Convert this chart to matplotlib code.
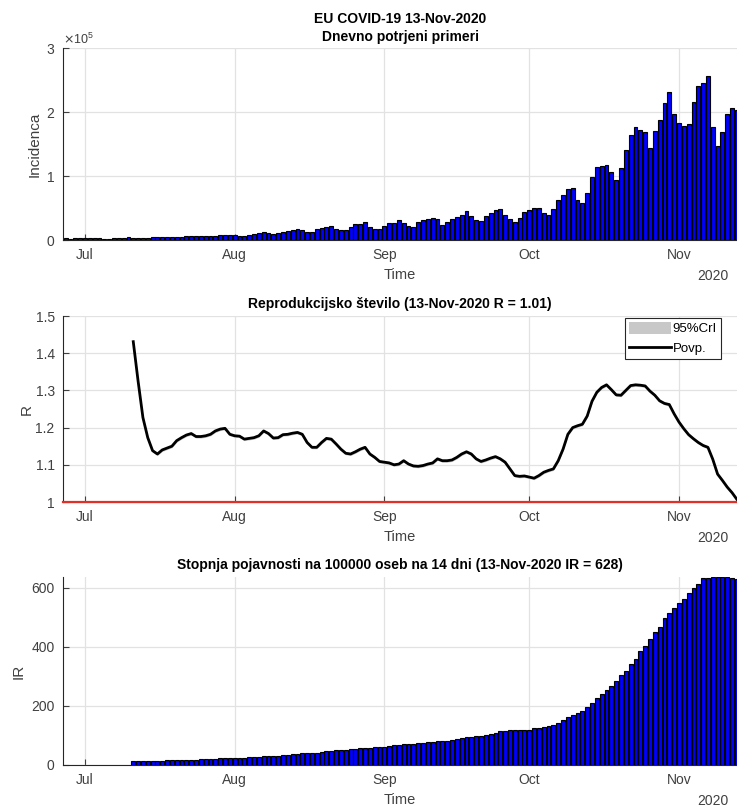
import numpy as np
import matplotlib
matplotlib.use('Agg')
import matplotlib.pyplot as plt
import matplotlib.dates as mdates
from matplotlib.ticker import ScalarFormatter, FixedLocator
from matplotlib.patches import Patch
from matplotlib.lines import Line2D

plt.rcParams['font.family'] = ['Liberation Sans', 'DejaVu Sans']

# daily confirmed cases, 27-Jun-2020 .. 13-Nov-2020 (thousands)
cases_k = [
    2.6, 1.8, 3.2, 3.2,
    3.3, 3.2, 3.1, 2.7, 1.2, 1.1, 2.6, 2.7, 3.0, 4.8, 3.2, 3.1, 3.3, 3.7, 4.2, 4.3,
    4.2, 4.3, 4.2, 4.3, 4.8, 5.8, 5.9, 5.8, 5.8, 5.7, 5.9, 6.3, 7.9, 8.5, 7.7,
    7.2, 6.9, 7.0, 8.5, 10.0, 11.0, 12.7, 10.6, 9.0, 11.0, 12.7, 14.3,
    15.5, 17.6, 15.0, 12.3, 12.3, 17.1, 19.3, 20.9, 22.5, 17.1, 15.0, 15.0, 20.9,
    24.6, 24.6, 27.8, 20.9, 17.1, 17.1,
    22.5, 26.2, 26.2, 31.0, 26.7, 22.5, 20.9, 27.8, 31.0, 32.6, 34.2, 32.6, 24.1,
    27.8, 32.6, 36.4, 39.6, 46.0, 37.4, 31.0, 29.4, 37.4, 42.8, 46.5,
    47.7, 39.8, 32.4, 28.1, 35.0, 43.0,
    46.2, 49.9, 49.9, 41.9, 39.8, 47.7, 63.1, 70.0, 80.1, 81.7, 63.1, 57.8, 73.2,
    98.1, 113.5, 115.1, 116.7, 106.6, 93.9, 111.9, 141.1, 163.9, 177.2, 172.4,
    169.2, 143.8, 170.8, 187.8, 214.3, 230.8, 197.3,
    182.5, 178.8, 182.0, 214.9, 241.4, 245.1, 256.2, 177.2, 146.9, 169.2, 197.3,
    206.4, 202.7,
]

# reproduction number, 11-Jul-2020 .. 13-Nov-2020
r_mean = [
    1.431, 1.325, 1.227, 1.173, 1.138, 1.129, 1.140, 1.145, 1.150, 1.165, 1.173,
    1.180, 1.184, 1.176, 1.176, 1.178, 1.182, 1.191, 1.196, 1.198, 1.182,
    1.178, 1.177, 1.169, 1.171, 1.173, 1.178, 1.191, 1.184, 1.172, 1.173, 1.181,
    1.182, 1.185, 1.187, 1.182, 1.160, 1.147, 1.147, 1.160, 1.171, 1.169, 1.156,
    1.142, 1.131, 1.129, 1.135, 1.142, 1.147, 1.129, 1.120, 1.109,
    1.107, 1.105, 1.100, 1.102, 1.111, 1.102, 1.097, 1.096, 1.098, 1.102, 1.105,
    1.116, 1.111, 1.111, 1.113, 1.120, 1.129, 1.135, 1.129, 1.116, 1.109, 1.113,
    1.118, 1.122, 1.116, 1.107, 1.089, 1.071, 1.069, 1.070,
    1.067, 1.064, 1.071, 1.080, 1.085, 1.089, 1.111, 1.142, 1.182, 1.200, 1.205,
    1.209, 1.231, 1.271, 1.295, 1.308, 1.315, 1.302, 1.288, 1.287, 1.300, 1.313,
    1.315, 1.314, 1.312, 1.298, 1.287, 1.272, 1.265, 1.262, 1.237,
    1.215, 1.197, 1.181, 1.170, 1.160, 1.152, 1.147, 1.115, 1.075, 1.058, 1.040,
    1.025, 1.007,
]
r_halfwidth = 0.004

# 14-day incidence per 100000, 11-Jul-2020 .. 13-Nov-2020
ir = [
    12, 12, 12, 12, 13, 13, 15, 16, 16, 16, 17, 18, 18, 18, 19, 19, 19, 21, 22, 22, 23,
    23, 24, 25, 26, 27, 28, 30, 31, 32, 32, 33, 35, 37, 38, 39, 40, 41, 42, 44, 47,
    49, 50, 51, 52, 53, 55, 57, 58, 59, 60, 61,
    62, 64, 66, 68, 70, 71, 72, 73, 75, 77, 79, 80, 81, 82, 84, 87, 90, 94, 96, 97,
    98, 101, 105, 109, 114, 114, 117, 117, 118, 120,
    120, 124, 124, 128, 132, 137, 141, 153, 162, 169, 175, 184, 195, 211, 226, 241,
    255, 268, 285, 303, 319, 342, 359, 385, 403, 426, 449, 468, 496, 514, 532,
    548, 563, 582, 599, 614, 632, 634, 636, 636, 635, 636, 634, 628,
]

month_ticks = ['2020-07-01', '2020-08-01', '2020-09-01', '2020-10-01', '2020-11-01']
month_labels = ['Jul', 'Aug', 'Sep', 'Oct', 'Nov']

days_cases = np.arange(np.datetime64('2020-06-27'), np.datetime64('2020-11-14'))
days_r = np.arange(np.datetime64('2020-07-11'), np.datetime64('2020-11-14'))
x_cases = mdates.date2num(days_cases)
x_r = mdates.date2num(days_r)
x_ticks = mdates.date2num(np.array(month_ticks, dtype='datetime64[D]'))
x_lo = mdates.date2num(np.datetime64('2020-06-26')) + 0.45
x_hi = mdates.date2num(np.datetime64('2020-11-13')) + 0.02

tick_col = '#404040'
grid_col = '#e2e2e2'

fig = plt.figure(figsize=(7.37, 8.10), dpi=100)
ax1 = fig.add_axes([63 / 737, 1 - 240 / 810, 674 / 737, 192 / 810])
ax2 = fig.add_axes([63 / 737, 1 - 502 / 810, 674 / 737, 186 / 810])
ax3 = fig.add_axes([63 / 737, 1 - 765 / 810, 674 / 737, 188 / 810])


def style(ax):
    ax.set_xlim(x_lo, x_hi)
    ax.xaxis.set_major_locator(FixedLocator(x_ticks))
    ax.set_xticklabels(month_labels)
    ax.grid(True, color=grid_col, linewidth=0.9)
    ax.set_axisbelow(True)
    ax.spines['top'].set_visible(False)
    ax.spines['right'].set_visible(False)
    ax.spines['left'].set_color('#262626')
    ax.spines['bottom'].set_color('#262626')
    ax.tick_params(direction='in', length=4, colors=tick_col, labelsize=10,
                   pad=6, width=0.8)
    ax.set_xlabel('Time', fontsize=10.5, color=tick_col, labelpad=4)
    ax.annotate('2020', xy=(1, 0), xycoords='axes fraction', xytext=(-8, -36),
                textcoords='offset pixels', ha='right', va='center',
                fontsize=10, color=tick_col)


# top: daily cases
ax1.bar(x_cases, np.array(cases_k) * 1000, width=0.8, color='#0000ff',
        edgecolor='black', linewidth=0.8)
style(ax1)
ax1.set_ylim(0, 3e5)
ax1.set_yticks([0, 1e5, 2e5, 3e5])
fmt = ScalarFormatter(useMathText=True)
fmt.set_powerlimits((0, 0))
ax1.yaxis.set_major_formatter(fmt)
ax1.yaxis.get_offset_text().set_fontsize(9)
ax1.yaxis.get_offset_text().set_color(tick_col)
ax1.set_ylabel('Incidenca', fontsize=11, color=tick_col, labelpad=3)
ax1.set_title('EU COVID-19 13-Nov-2020\nDnevno potrjeni primeri',
              fontsize=10, fontweight='bold', pad=5, linespacing=1.35)

# middle: reproduction number
r_arr = np.array(r_mean)
ax2.fill_between(x_r, r_arr - r_halfwidth, r_arr + r_halfwidth, color='#c8c8c8',
                 linewidth=0)
ax2.plot(x_r, r_arr, color='black', linewidth=2)
ax2.axhline(1, color='#e0302a', linewidth=1.6, zorder=5, clip_on=False)
style(ax2)
ax2.set_ylim(1, 1.5)
ax2.set_yticks([1, 1.1, 1.2, 1.3, 1.4, 1.5])
ax2.set_yticklabels(['1', '1.1', '1.2', '1.3', '1.4', '1.5'])
ax2.set_ylabel('R', fontsize=11, color=tick_col, labelpad=1)
ax2.set_title('Reprodukcijsko število (13-Nov-2020 R = 1.01)',
              fontsize=10, fontweight='bold', pad=6)
handles = [Patch(facecolor='#c8c8c8', edgecolor='none'),
           Line2D([0], [0], color='black', linewidth=2)]
leg = ax2.legend(handles, ['95%CrI', 'Povp.'], loc='upper right',
                 bbox_to_anchor=(0.976, 0.989), fontsize=9.5, frameon=True,
                 fancybox=False, framealpha=1, edgecolor='#262626',
                 handlelength=3.2, handleheight=1.0, handletextpad=0.1,
                 borderpad=0.3, labelspacing=0.5, borderaxespad=0)
leg.get_frame().set_linewidth(0.8)

# bottom: 14-day incidence rate
ax3.bar(x_r, ir, width=0.8, color='#0000ff', edgecolor='black', linewidth=0.8)
style(ax3)
ax3.set_ylim(0, max(ir))
ax3.set_yticks([0, 200, 400, 600])
ax3.set_ylabel('IR', fontsize=11, color=tick_col, labelpad=4)
ax3.set_title('Stopnja pojavnosti na 100000 oseb na 14 dni (13-Nov-2020 IR = 628)',
              fontsize=10, fontweight='bold', pad=6)

fig.savefig('out.png', dpi=100)
